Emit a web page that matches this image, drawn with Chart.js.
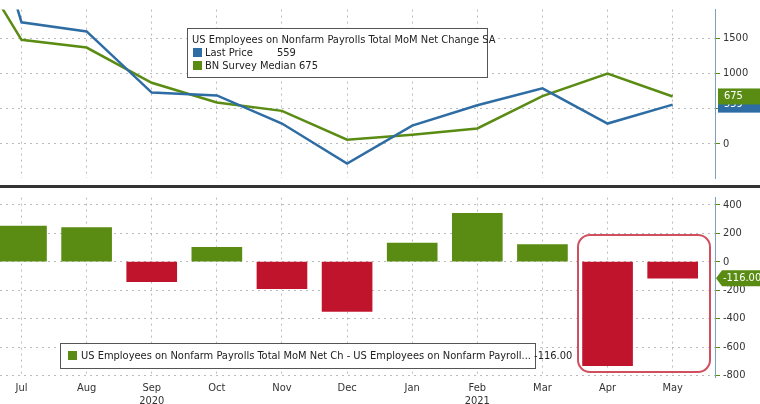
<!DOCTYPE html>
<html><head><meta charset="utf-8">
<script src="https://cdn.jsdelivr.net/npm/chart.js@4"></script>
<style>
body{margin:0;background:#fff;width:760px;height:404px;overflow:hidden;font-family:"DejaVu Sans Condensed","Liberation Sans Narrow",sans-serif}
#w1{position:absolute;left:0;top:0;width:760px;height:188px}
#w2{position:absolute;left:0;top:188px;width:760px;height:216px}
</style></head><body>
<div id="w1"><canvas id="c1"></canvas></div>
<div id="w2"><canvas id="c2"></canvas></div>
<script>
const months = ["Jun","Jul","Aug","Sep","Oct","Nov","Dec","Jan","Feb","Mar","Apr","May"];
const lastPrice = [4800,1730,1600,730,690,290,-280,260,550,790,290,559];
const surveyMedian = [3000,1480,1370,870,590,470,60,130,220,680,1000,675];
const surprise = [250,240,-140,100,-190,-350,130,340,120,-730,-116];
const topTicks = [0,500,1000,1500];
const bottomTicks = [400,200,0,-200,-400,-600,-800];
const years = [["2020",3],["2021",8]];
const GREEN='#5a8c14', BLUE='#2e6da4', RED='#c0142c';
const F='"DejaVu Sans Condensed", sans-serif';
const idx = a => a.map((v,i)=>({x:i-1,y:v}));
const xMin=-0.33, xMax=10.65;
function yRight(min,max,ticks){return {position:'right',min,max,afterFit:s=>{s.width=45},
 afterBuildTicks:s=>{s.ticks=ticks.map(v=>({value:v}))},
 grid:{color:'#bbb',drawTicks:true,tickLength:5,tickColor:'#5a8c14'},
 border:{display:true,color:'#7aa0c0',dash:[2,4]},
 ticks:{color:'#333',font:{family:F,size:11},padding:3,callback:v=>String(v)}};}
const xGrid={type:'linear',offset:false,min:xMin,max:xMax,afterBuildTicks:s=>{s.ticks=[0,1,2,3,4,5,6,7,8,9,10].map(v=>({value:v}))},
 grid:{color:'#bbb',drawTicks:false,offset:false},border:{display:false,dash:[2,4]}};
const topPlug={id:'tp',afterDraw(c){const g=c.ctx,ys=c.scales.y;g.save();
 const tag=(v,txt,col)=>{const y=ys.getPixelForValue(v);g.fillStyle=col;g.fillRect(718,y-8,42,16);g.fillStyle='#fff';g.font='11px '+F;g.textBaseline='middle';g.fillText(txt,724,y);};
 tag(559,'559',BLUE);tag(675,'675',GREEN);
 g.fillStyle='#fff';g.strokeStyle='#555';g.lineWidth=1;g.fillRect(187.5,28.5,300,49);g.strokeRect(187.5,28.5,300,49);
 g.font='11px '+F;g.textBaseline='middle';g.fillStyle='#222';
 g.fillText('US Employees on Nonfarm Payrolls Total MoM Net Change SA',192,40);
 g.fillStyle=BLUE;g.fillRect(193,48,9,9);g.fillStyle=GREEN;g.fillRect(193,61,9,9);
 g.fillStyle='#222';g.fillText('Last Price',205,53);g.fillText('559',277,53);g.fillText('BN Survey Median 675',205,66);
 g.fillStyle='#333';g.fillRect(0,185,760,3);g.restore();}};
new Chart(document.getElementById('c1'),{type:'line',data:{datasets:[
 {data:idx(lastPrice),borderColor:BLUE,borderWidth:2.5,pointRadius:0,tension:0},
 {data:idx(surveyMedian),borderColor:GREEN,borderWidth:2.5,pointRadius:0,tension:0}]},
 options:{responsive:true,maintainAspectRatio:false,animation:false,layout:{padding:0},
 plugins:{legend:{display:false},tooltip:{enabled:false}},
 scales:{x:{...xGrid,ticks:{display:false}},y:yRight(-490,1910,topTicks)}},plugins:[topPlug]});
const botPlug={id:'bp',afterDraw(c){const g=c.ctx,ys=c.scales.y,xs=c.scales.x;g.save();
 const y=ys.getPixelForValue(-116);g.fillStyle=GREEN;g.beginPath();g.moveTo(716,y);g.lineTo(722,y-8);g.lineTo(760,y-8);g.lineTo(760,y+8);g.lineTo(722,y+8);g.closePath();g.fill();
 g.fillStyle='#fff';g.font='11px '+F;g.textBaseline='middle';g.fillText('-116.00',723,y);
 g.strokeStyle='#d0505f';g.lineWidth=2;g.beginPath();g.roundRect(578,47,132,137,12);g.stroke();
 g.fillStyle='#fff';g.strokeStyle='#555';g.lineWidth=1;g.fillRect(60.5,155.5,475,25);g.strokeRect(60.5,155.5,475,25);
 g.fillStyle=GREEN;g.fillRect(68,163,9,9);g.fillStyle='#222';
 g.fillText('US Employees on Nonfarm Payrolls Total MoM Net Ch - US Employees on Nonfarm Payroll... -116.00',81,168);
 g.textAlign='center';g.fillStyle='#333';
 months.slice(1).forEach((m,i)=>g.fillText(m,xs.getPixelForValue(i),200));
 years.forEach(([t,i])=>g.fillText(t,xs.getPixelForValue(i-1),213));
 g.restore();}};
new Chart(document.getElementById('c2'),{type:'bar',data:{datasets:[
 {data:surprise.map((v,i)=>({x:i,y:v})),backgroundColor:surprise.map(v=>v>=0?GREEN:RED),barThickness:50}]},
 options:{responsive:true,maintainAspectRatio:false,animation:false,layout:{padding:{top:4}},
 plugins:{legend:{display:false},tooltip:{enabled:false}},
 scales:{x:{...xGrid,ticks:{display:false},afterFit:s=>{s.height=27}},y:yRight(-810,450,bottomTicks)}},plugins:[botPlug]});
</script></body></html>
